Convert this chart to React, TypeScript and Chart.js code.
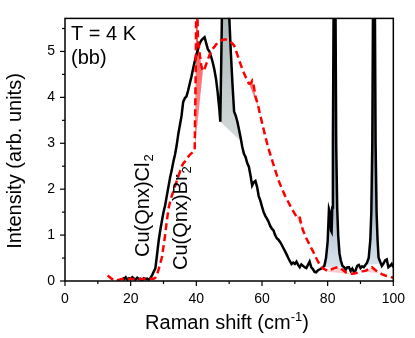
import React, { useEffect, useRef } from "react";
import { Chart, registerables } from "chart.js";
Chart.register(...registerables);

type P = [number, number];

const cl2Data: P[] = [
  [17.5,0.07],[18,0.04],[18.5,0.08],[19,0.03],[19.5,0.06],[20,0.04],[20.5,0.08],[21,0.05],[21.5,0.03],[22,0.07],[22.5,0.04],[23,0.05],[23.5,0.02],[24,0.06],[24.5,0.04],[25,0.05],[25.5,0.03],[26,0.06],[26.5,0.12],[27,0.2],[27.5,0.27],[28,0.55],[28.5,0.86],[29,1.1],[29.5,1.3],[30,1.5],[30.5,1.65],[31,1.85],[31.5,2.05],[32,2.25],[32.5,2.41],[33,2.6],[33.5,2.75],[34,2.95],[34.5,3.2],[35,3.4],[35.5,3.6],[36,3.9],[36.5,3.98],[37,4.02],[37.5,4.15],[38,4.3],[38.5,4.45],[39,4.62],[39.5,4.78],[40,4.92],[40.5,5.05],[41,5.17],[41.5,5.24],[42,5.28],[42.5,5.31],[43,5.18],[43.5,5.05],[44,5.0],[44.5,4.89],[45,4.76],[45.5,4.6],[46,4.4],[46.5,4.11],[47,3.75],[47.3,3.47],[47.8,5.8],[48.3,9],[48.9,12],[49.5,9],[50,5.8],[50.5,5.0],[51,4.3],[51.5,3.69],[52,3.6],[52.5,3.47],[53,3.3],[53.5,3.12],[54,2.92],[54.5,2.77],[55,2.7],[55.5,2.57],[56,2.49],[56.5,2.3],[57,2.08],[57.5,2.15],[58,2.18],[58.5,2.05],[59,1.85],[59.5,1.75],[60,1.62],[60.5,1.5],[61,1.42],[61.5,1.36],[62,1.29],[62.5,1.2],[63,1.14],[63.5,1.1],[64,1.0],[64.5,0.93],[65,0.9],[65.5,0.85],[66,0.79],[66.5,0.72],[67,0.65],[67.5,0.58],[68,0.5],[68.5,0.43],[69,0.37],[69.5,0.4],[70,0.37],[70.5,0.42],[71,0.35],[71.5,0.3],[72,0.36],[72.5,0.33],[73,0.3],[73.5,0.28],[74,0.35],[74.5,0.42],[75,0.3],[75.5,0.26],[76,0.2],[76.5,0.19],[77,0.23],[77.5,0.25],[78,0.27],[78.5,0.3],[79,0.33],[79.5,0.5],[80,0.86],[80.4,1.57],[80.7,1.5],[81,1.1],[81.2,1.07],[81.4,1.6],[81.6,3.0],[81.85,6.5],[82.1,15],[82.35,6.5],[82.6,3.0],[82.9,1.6],[83.2,1.0],[83.6,0.6],[84,0.45],[84.5,0.33],[85,0.3],[85.5,0.25],[86,0.3],[86.5,0.3],[87,0.22],[87.5,0.27],[88,0.2],[88.5,0.23],[89,0.33],[89.5,0.35],[90,0.28],[90.5,0.32],[91,0.3],[91.5,0.35],[92,0.4],[92.5,0.5],[93,0.9],[93.3,1.5],[93.6,3.0],[93.85,6.5],[94.1,15],[94.35,6.5],[94.6,3.0],[94.9,1.5],[95.2,0.9],[95.5,0.51],[96,0.42],[96.5,0.33],[97,0.38],[97.5,0.45],[98,0.47],[98.5,0.3],[99,0.33],[99.5,0.37],[100,0.3]
];

const br2Data: P[] = [
  [13,0.12],[14,0.06],[15,0.01],[16,0.02],[17,0.04],[18,0.05],[19,0.04],[20,0.05],[21,0.04],[22,0.05],[23,0.04],[24,0.05],[25,0.04],[26,0.05],[27,0.05],[27.5,0.07],[28,0.13],[28.5,0.25],[29,0.38],[29.5,0.51],[30,0.75],[30.5,1.0],[31,1.3],[31.5,1.57],[32,1.72],[32.5,1.85],[33,1.95],[33.5,2.06],[34,2.17],[34.5,2.28],[35,2.38],[35.5,2.49],[36,2.56],[36.5,2.6],[37,2.65],[37.5,2.7],[38,2.75],[38.5,2.78],[39,2.81],[39.5,2.84],[39.8,4.5],[40.05,6.8],[40.3,5.9],[40.5,5.25],[41,4.96],[41.5,4.7],[42,4.57],[42.5,4.62],[43,4.72],[43.5,4.82],[44,4.92],[44.5,5.0],[45,5.06],[45.5,5.1],[46,5.15],[46.5,5.19],[47,5.22],[47.5,5.24],[48,5.25],[48.5,5.26],[49,5.26],[49.5,5.25],[50,5.23],[50.5,5.2],[51,5.17],[51.5,5.13],[52,5.03],[52.5,4.93],[53,4.82],[53.5,4.72],[54,4.62],[54.5,4.53],[55,4.45],[55.5,4.37],[56,4.3],[56.5,4.3],[57,4.36],[57.5,4.25],[58,4.02],[58.5,3.9],[59,3.76],[60,3.45],[61,3.15],[62,2.88],[63,2.65],[64,2.42],[65,2.2],[66,2.02],[67,1.86],[68,1.72],[69,1.58],[70,1.46],[70.5,1.4],[71,1.42],[71.5,1.38],[72,1.22],[72.5,1.1],[73,1.02],[73.5,0.93],[74,0.86],[74.5,0.79],[75,0.72],[75.5,0.65],[76,0.58],[76.5,0.5],[77,0.43],[77.5,0.37],[78,0.32],[78.5,0.28],[79,0.26],[80,0.22],[81,0.25],[82,0.28],[83,0.3],[84,0.27],[85,0.22],[85.5,0.19],[86.5,0.17],[87.5,0.16],[88.5,0.17],[89.5,0.19],[90.5,0.21],[91.5,0.22],[92.5,0.26],[93.5,0.3],[94.5,0.24],[95.5,0.19],[96.5,0.15],[97.5,0.12],[98.5,0.1],[99.5,0.08],[100,0.07]
];

// straight backgrounds under shaded peaks (feet of each peak)
const clPeak48Base: P[] = [[47.3, 3.47], [53.5, 3.05]];
const clPeak82Base: P[] = [[79, 0.3], [84.5, 0.3]];
const clPeak94Base: P[] = [[92, 0.35], [96, 0.38]];
const brPeak40Base: P[] = [[39.5, 2.84], [42, 4.57]];
const brPeak57Base: P[] = [[56, 4.3], [59, 3.76]];
const brPeak71Base: P[] = [[70.5, 1.4], [72.5, 1.1]];
const brPeak83Base: P[] = [[80, 0.2], [86.5, 0.15]];
const brPeak94Base: P[] = [[91.5, 0.2], [95.5, 0.17]];

const xMajor = [0, 20, 40, 60, 80, 100];
const xMinor = [10, 30, 50, 70, 90];
const yMajor = [0, 1, 2, 3, 4, 5];
const yMinor = [0.5, 1.5, 2.5, 3.5, 4.5, 5.5];
const X_MIN = 0, X_MAX = 100, Y_MIN = 0, Y_MAX = 5.72;

const FONT = '"Liberation Sans", Arial, sans-serif';

const pts = (d: P[]) => d.map(([x, y]) => ({ x, y }));
const subset = (d: P[], base: P[]) => d.filter(([x]) => x >= base[0][0] && x <= base[1][0]);

const vGrad = (top: string, bottom: string) => (c: any) => {
  const ch = c.chart;
  const a = ch.chartArea;
  if (!a) return bottom;
  const g = ch.ctx.createLinearGradient(0, a.top, 0, a.bottom);
  g.addColorStop(0, top);
  g.addColorStop(1, bottom);
  return g;
};

const decor = {
  id: "decor",
  afterDraw(chart: any) {
    const { ctx, chartArea: a, scales } = chart;
    const x = scales.x, y = scales.y;
    ctx.save();
    ctx.strokeStyle = "#000";
    ctx.lineWidth = 1.5;
    ctx.strokeRect(a.left, a.top, a.right - a.left, a.bottom - a.top);
    ctx.lineWidth = 1.2;
    const seg = (x1: number, y1: number, x2: number, y2: number) => {
      ctx.beginPath(); ctx.moveTo(x1, y1); ctx.lineTo(x2, y2); ctx.stroke();
    };
    xMajor.forEach(v => { const p = x.getPixelForValue(v); seg(p, a.bottom, p, a.bottom + 5); });
    xMinor.forEach(v => { const p = x.getPixelForValue(v); seg(p, a.bottom, p, a.bottom + 3); });
    yMajor.forEach(v => { const p = y.getPixelForValue(v); seg(a.left, p, a.left - 5, p); });
    yMinor.forEach(v => { const p = y.getPixelForValue(v); seg(a.left, p, a.left - 3, p); });

    ctx.fillStyle = "#000";
    ctx.textBaseline = "alphabetic";
    ctx.textAlign = "left";
    ctx.font = `20px ${FONT}`;
    ctx.fillText("T = 4 K", 71, 40);
    ctx.fillText("(bb)", 71, 64);

    const rotLabel = (main: string, sub: string, bx: number, by: number) => {
      ctx.save();
      ctx.translate(bx, by);
      ctx.rotate(-Math.PI / 2);
      ctx.font = `20px ${FONT}`;
      ctx.fillText(main, 0, 0);
      const w = ctx.measureText(main).width;
      ctx.font = `13px ${FONT}`;
      ctx.fillText(sub, w + 1, 4);
      ctx.restore();
    };
    rotLabel("Cu(Qnx)Cl", "2", 149, 257);
    rotLabel("Cu(Qnx)Br", "2", 187, 270);

    // x title with superscript
    const t1 = "Raman shift (cm", sup = "-1", t2 = ")";
    ctx.font = `20px ${FONT}`;
    const w1 = ctx.measureText(t1).width, w3 = ctx.measureText(t2).width;
    ctx.font = `13px ${FONT}`;
    const w2 = ctx.measureText(sup).width;
    const total = w1 + w2 + w3;
    let sx = 227 - total / 2;
    const by = 329;
    ctx.font = `20px ${FONT}`;
    ctx.fillText(t1, sx, by);
    ctx.font = `13px ${FONT}`;
    ctx.fillText(sup, sx + w1, by - 8);
    ctx.font = `20px ${FONT}`;
    ctx.fillText(t2, sx + w1 + w2, by);

    // y title
    ctx.save();
    ctx.translate(21, 161);
    ctx.rotate(-Math.PI / 2);
    ctx.textAlign = "center";
    ctx.font = `20px ${FONT}`;
    ctx.fillText("Intensity (arb. units)", 0, 0);
    ctx.restore();
    ctx.restore();
  },
};

export default function App() {
  const ref = useRef<HTMLCanvasElement | null>(null);
  useEffect(() => {
    if (!ref.current) return;
    const datasets: any[] = [
      {
        label: "Cu(Qnx)Br2", data: pts(br2Data), borderColor: "#ff0000", borderWidth: 2.5,
        borderDash: [7, 4], pointRadius: 0, fill: false, order: 0, tension: 0,
      },
      {
        label: "Cu(Qnx)Cl2", data: pts(cl2Data), borderColor: "#000000", borderWidth: 2.5,
        pointRadius: 0, fill: false, order: 1, tension: 0,
      },
    ];
    const addFill = (src: P[], base: P[], bg: any) => {
      datasets.push({
        data: pts(subset(src, base)), borderWidth: 0, borderColor: "rgba(0,0,0,0)",
        pointRadius: 0, fill: "+1", backgroundColor: bg, order: 5, tension: 0,
      });
      datasets.push({
        data: pts(base), borderWidth: 0, borderColor: "rgba(0,0,0,0)",
        pointRadius: 0, fill: false, order: 6,
      });
    };
    const blue = vGrad("#2a3d52", "#e2edf8");
    const gray = vGrad("#aeb9b9", "#ffffff");
    const pink = vGrad("rgba(255,50,50,0.85)", "rgba(255,120,120,0.35)");
    addFill(cl2Data, clPeak48Base, gray);
    addFill(cl2Data, clPeak82Base, blue);
    addFill(cl2Data, clPeak94Base, blue);
    addFill(br2Data, brPeak40Base, pink);
    addFill(br2Data, brPeak57Base, pink);
    addFill(br2Data, brPeak71Base, pink);
    addFill(br2Data, brPeak83Base, pink);
    addFill(br2Data, brPeak94Base, pink);

    const chart = new Chart(ref.current, {
      type: "line",
      data: { datasets },
      options: {
        animation: false,
        responsive: true,
        maintainAspectRatio: false,
        devicePixelRatio: 1,
        layout: { padding: { left: 0, top: 11, right: 17, bottom: 0 } },
        plugins: { legend: { display: false }, tooltip: { enabled: false } },
        scales: {
          x: {
            type: "linear", min: X_MIN, max: X_MAX,
            grid: { display: false, drawTicks: false },
            border: { display: false },
            afterBuildTicks: (s: any) => { s.ticks = xMajor.map(v => ({ value: v })); },
            afterFit: (s: any) => { s.height = 57; },
            ticks: { color: "#000", font: { family: FONT, size: 14 }, padding: 10, maxRotation: 0, autoSkip: false },
          },
          y: {
            type: "linear", min: Y_MIN, max: Y_MAX,
            grid: { display: false, drawTicks: false },
            border: { display: false },
            afterBuildTicks: (s: any) => { s.ticks = yMajor.map(v => ({ value: v })); },
            afterFit: (s: any) => { s.width = 65; },
            ticks: { color: "#000", font: { family: FONT, size: 14 }, padding: 10, autoSkip: false },
          },
        },
      } as any,
      plugins: [decor],
    });
    return () => chart.destroy();
  }, []);
  return (
    <div style={{ position: "absolute", left: 0, top: 0, width: 415, height: 338, background: "#fff" }}>
      <canvas ref={ref} />
    </div>
  );
}
